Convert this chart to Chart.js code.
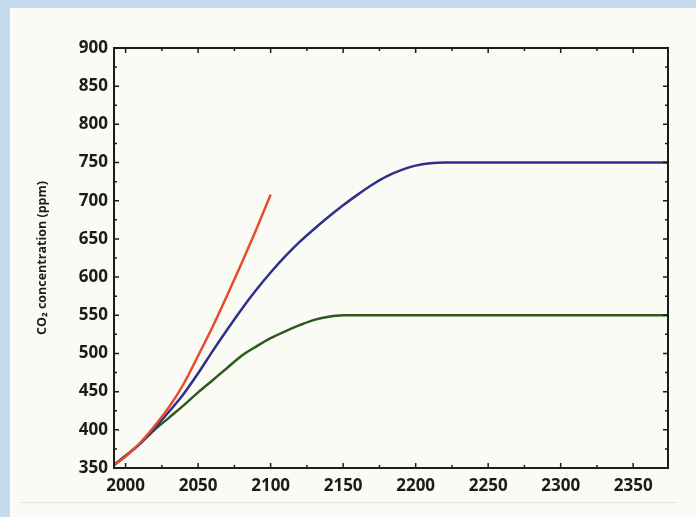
<!DOCTYPE html>
<html>
<head>
<meta charset="utf-8">
<script src="https://cdn.jsdelivr.net/npm/chart.js@4"></script>
<style>
  html, body { margin: 0; padding: 0; }
  body { width: 696px; height: 517px; background: #c6daee; position: relative; overflow: hidden; }
  #panel { position: absolute; left: 10px; top: 8px; right: 0; bottom: 0; background: #fbfbf6; }
  #rule { position: absolute; left: 20px; width: 658px; top: 502px; height: 1px; background: #e6e6e1; }
  #chart { position: absolute; left: 0; top: 0; }
</style>
</head>
<body>
<div id="panel"></div>
<div id="rule"></div>
<canvas id="chart" width="696" height="517"></canvas>
<script>
// values (year, ppm)
const redYears = [1992, 2000, 2010, 2020, 2030, 2040, 2050, 2060, 2070, 2080, 2090, 2100];
const redPpm = [354, 365, 383, 405, 430, 460, 497, 535, 576, 618, 662, 708];

const blueYears = [1992, 2000, 2010, 2020, 2030, 2040, 2050, 2060, 2070, 2080, 2090, 2100, 2110, 2120, 2130, 2140, 2150, 2160, 2170, 2180, 2190, 2200, 2210, 2220, 2374];
const bluePpm = [354, 366, 382, 402, 424, 447, 474, 503, 531, 558, 583, 606, 627, 646, 663, 679, 694, 708, 721, 732, 740, 746, 749, 750, 750];

const greenYears = [1992, 2000, 2010, 2020, 2030, 2040, 2050, 2060, 2070, 2080, 2090, 2100, 2110, 2120, 2130, 2140, 2150, 2374];
const greenPpm = [354, 366, 382, 400, 416, 432, 449, 465, 481, 497, 509, 520, 529, 537, 544, 548, 550, 550];

const xTicks = [2000, 2050, 2100, 2150, 2200, 2250, 2300, 2350];
const yTicks = [350, 400, 450, 500, 550, 600, 650, 700, 750, 800, 850, 900];

function toPoints(xs, ys) {
  return xs.map((x, i) => ({ x: x, y: ys[i] }));
}

const frameTicks = {
  id: 'frameTicks',
  afterDraw(chart) {
    const { ctx, chartArea: a, scales } = chart;
    ctx.save();
    ctx.strokeStyle = '#1b1b1b';
    ctx.lineWidth = 1.5;
    // x ticks every 25 years, bottom and top
    for (let v = 2000; v <= 2350; v += 25) {
      const px = scales.x.getPixelForValue(v);
      const len = v % 50 === 0 ? 5 : 3;
      ctx.beginPath();
      ctx.moveTo(px, a.bottom); ctx.lineTo(px, a.bottom - len);
      ctx.moveTo(px, a.top); ctx.lineTo(px, a.top + len);
      ctx.stroke();
    }
    // y ticks every 25 ppm, left and right
    for (let v = 375; v < 900; v += 25) {
      const py = scales.y.getPixelForValue(v);
      const len = v % 50 === 0 ? 5 : 3;
      ctx.beginPath();
      ctx.moveTo(a.left, py); ctx.lineTo(a.left + len, py);
      ctx.moveTo(a.right, py); ctx.lineTo(a.right - len, py);
      ctx.stroke();
    }
    ctx.lineWidth = 2;
    ctx.strokeRect(a.left, a.top, a.right - a.left, a.bottom - a.top);
    ctx.restore();
  }
};

const tickFont = { family: 'Open Sans', size: 17, weight: 'bold' };

new Chart(document.getElementById('chart'), {
  type: 'line',
  data: {
    datasets: [
      { label: 'red', data: toPoints(redYears, redPpm), borderColor: '#e84a2a' },
      { label: 'blue', data: toPoints(blueYears, bluePpm), borderColor: '#2f2f8c' },
      { label: 'green', data: toPoints(greenYears, greenPpm), borderColor: '#2c5a1c' }
    ].map(d => Object.assign(d, {
      borderWidth: 2.5,
      pointRadius: 0,
      fill: false,
      cubicInterpolationMode: 'monotone'
    }))
  },
  options: {
    responsive: false,
    animation: false,
    devicePixelRatio: 1,
    layout: { padding: { left: 31, top: 48, right: 28, bottom: 0 } },
    plugins: { legend: { display: false }, tooltip: { enabled: false } },
    scales: {
      x: {
        type: 'linear',
        min: 1992,
        max: 2374,
        grid: { display: false, drawTicks: false },
        border: { display: false },
        afterBuildTicks: s => { s.ticks = xTicks.map(v => ({ value: v })); },
        afterFit: s => { s.height = 49; },
        ticks: {
          color: '#1b1b1b', font: tickFont, padding: 8, maxRotation: 0, autoSkip: false,
          callback: v => String(v)
        }
      },
      y: {
        min: 350,
        max: 900,
        grid: { display: false, drawTicks: false },
        border: { display: false },
        afterBuildTicks: s => { s.ticks = yTicks.map(v => ({ value: v })); },
        afterFit: s => { s.width = 83; },
        ticks: { color: '#1b1b1b', font: tickFont, padding: 6 },
        title: {
          display: true,
          text: 'CO₂ concentration (ppm)',
          color: '#1b1b1b',
          font: { family: 'Open Sans', size: 12.5, weight: 'bold' }
        }
      }
    }
  },
  plugins: [frameTicks]
});
</script>
</body>
</html>
